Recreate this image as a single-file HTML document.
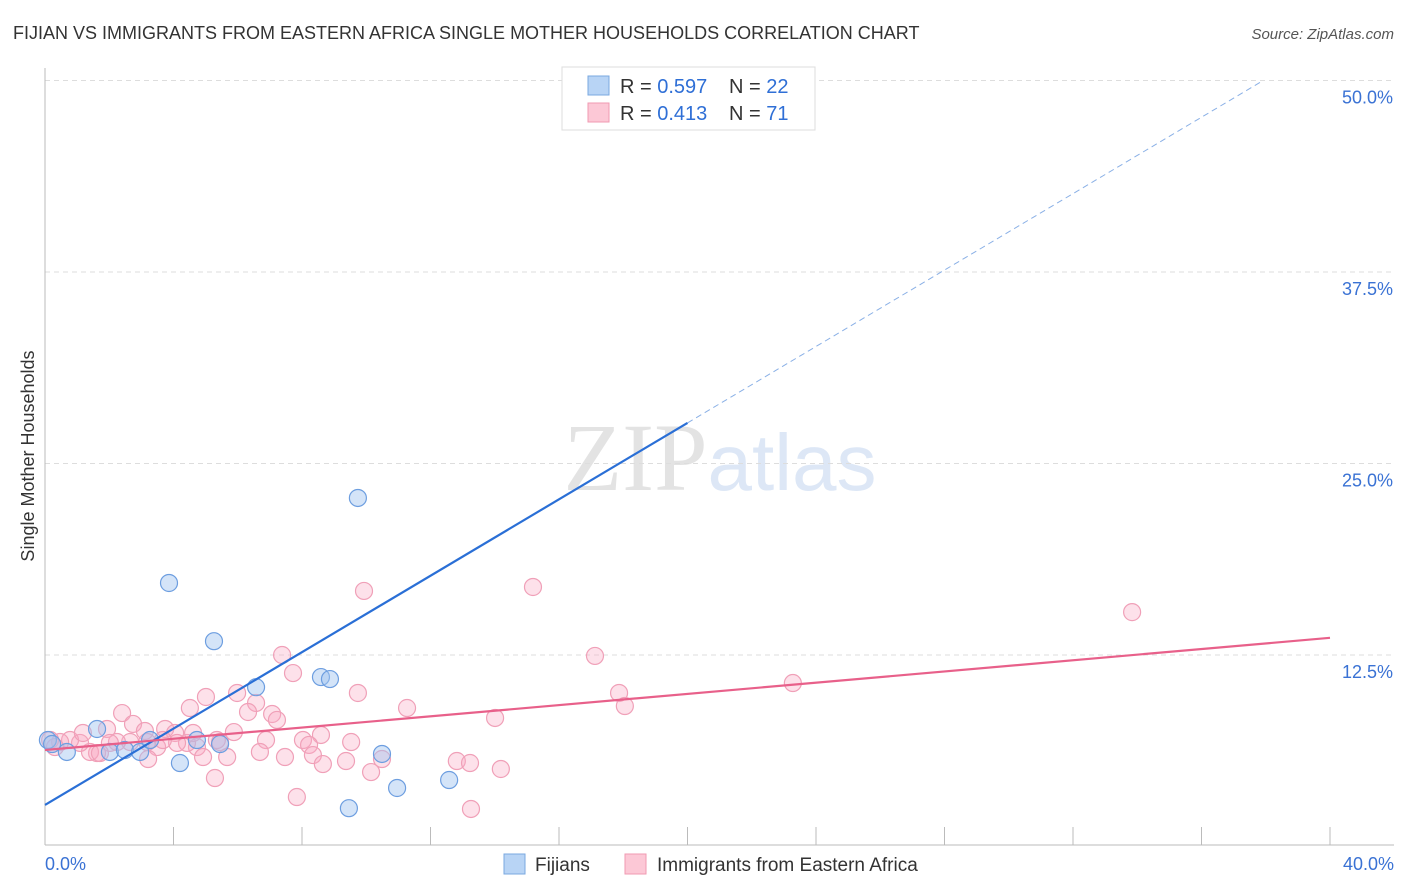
<!DOCTYPE html>
<html><head><meta charset="utf-8"><style>
body{margin:0;background:#fff;font-family:"Liberation Sans",sans-serif}
svg{display:block}
</style></head><body>
<svg id="chart" width="1406" height="892" xmlns="http://www.w3.org/2000/svg">
<text x="13" y="39" font-size="18" fill="#333">FIJIAN VS IMMIGRANTS FROM EASTERN AFRICA SINGLE MOTHER HOUSEHOLDS CORRELATION CHART</text>
<text x="1394" y="39" font-size="15" fill="#555" text-anchor="end" font-style="italic">Source: ZipAtlas.com</text>
<text x="720" y="490" font-size="96" text-anchor="middle" font-family="Liberation Serif" fill="#ddd" opacity="0.8">ZIP<tspan font-family="Liberation Sans" fill="#d5e2f4" font-size="80">atlas</tspan></text>
<g id="grid"></g>
<g id="axes"></g>
<g id="marks"></g>
<text transform="translate(34,456) rotate(-90)" font-size="18" fill="#333" text-anchor="middle">Single Mother Households</text>
<g>
<rect x="562" y="67" width="253" height="63" fill="#fff" stroke="#ddd"/>
<rect x="588" y="76" width="21" height="19" fill="#b8d4f5" stroke="#7aa8e0"/>
<rect x="588" y="103" width="21" height="19" fill="#fcc8d6" stroke="#f09ab2"/>
<text x="620" y="93" font-size="20" fill="#333">R = <tspan fill="#2f6fd6">0.597</tspan></text>
<text x="729" y="93" font-size="20" fill="#333">N = <tspan fill="#2f6fd6">22</tspan></text>
<text x="620" y="120" font-size="20" fill="#333">R = <tspan fill="#2f6fd6"> 0.413</tspan></text>
<text x="729" y="120" font-size="20" fill="#333">N = <tspan fill="#2f6fd6"> 71</tspan></text>
</g>
<g>
<rect x="504" y="854" width="21" height="20" fill="#b8d4f5" stroke="#7aa8e0"/>
<text x="535" y="871" font-size="19" fill="#333">Fijians</text>
<rect x="625" y="854" width="21" height="20" fill="#fcc8d6" stroke="#f09ab2"/>
<text x="657" y="871" font-size="19" fill="#333">Immigrants from Eastern Africa</text>
</g>
</svg>
<script>
const yTicks=[12.5,25,37.5,50];
const yTickLabels=["12.5%","25.0%","37.5%","50.0%"];
const xTickLabels=["0.0%","40.0%"];
const fijiX=[0.09,0.22,0.68,1.62,2.02,2.49,2.96,3.27,3.86,4.20,4.73,5.26,5.45,6.57,8.59,8.87,9.74,9.46,10.49,10.96,12.58,19.77];
const fijiY=[6.95,6.69,6.17,7.67,6.17,6.30,6.17,6.95,17.2,5.45,6.95,13.4,6.69,10.4,11.06,10.93,22.75,2.5,6.04,3.82,4.34,50.0];
const immX=[9.93,7.38,7.72,9.74,11.27,5.98,5.01,4.51,2.40,6.57,6.32,7.07,7.22,2.74,1.93,3.11,3.74,4.05,5.88,8.59,9.53,8.03,8.22,6.88,5.45,4.73,5.35,4.42,4.11,3.49,3.18,2.65,2.24,2.02,1.62,1.40,1.09,0.78,0.47,0.16,0.31,1.71,3.21,4.92,5.67,6.69,7.47,8.34,8.65,9.37,10.49,10.15,5.29,7.84,1.18,3.67,4.61,15.19,17.12,17.87,18.05,23.28,14.01,12.82,13.23,14.19,13.26,33.84];
const immY=[16.68,12.50,11.32,10.02,9.04,10.02,9.76,9.04,8.71,9.37,8.78,8.65,8.26,8.0,7.67,7.54,7.67,7.41,7.47,7.28,6.82,6.95,6.63,6.95,6.82,6.49,6.95,6.76,6.76,6.49,6.82,6.82,6.82,6.76,6.10,6.17,6.76,6.95,6.82,6.95,6.49,6.10,5.71,5.84,5.84,6.17,5.84,5.97,5.38,5.58,5.71,4.86,4.47,3.23,7.41,6.95,7.41,16.94,12.44,10.02,9.17,10.67,8.39,5.58,5.45,5.06,2.45,15.3];
const fijiTrend=[2.71,1.247];
const immTrend=[6.30,0.183];

const NS="http://www.w3.org/2000/svg";
const X=v=>45+v/40*1285;
const Y=v=>846.5-v/12.5*191.5;
function mk(tag,attrs,parent){const e=document.createElementNS(NS,tag);for(const k in attrs)e.setAttribute(k,attrs[k]);document.getElementById(parent).appendChild(e);return e;}

yTicks.forEach((t,i)=>{
  const l=mk('line',{x1:45,x2:1394,y1:Y(t),y2:Y(t),stroke:'#ddd','stroke-dasharray':'5,4'},'grid');
  
  
  const tx=mk('text',{x:1393,y:Y(t)+23,'font-size':18,fill:'#3a72d4','text-anchor':'end'},'grid');
  tx.textContent=yTickLabels[i];
  
  
});
let a=mk('line',{x1:45,x2:45,y1:68,y2:845,stroke:'#bbb'},'axes');


a=mk('line',{x1:45,x2:1394,y1:845,y2:845,stroke:'#bbb'},'axes');


for(let i=0;i<=10;i++){
  const t=mk('line',{x1:X(i*4),x2:X(i*4),y1:827,y2:845,stroke:'#bbb'},'axes');
  
  
}
[[0,'start',45],[40,'end',1394]].forEach((d,i)=>{
  const t=mk('text',{x:d[2],y:870,'font-size':18,fill:'#3a72d4','text-anchor':d[1]},'axes');
  t.textContent=xTickLabels[i];
  
  
});

immX.forEach((x,i)=>{
  const c=mk('circle',{cx:X(x),cy:Y(immY[i]),r:8.5,fill:'rgba(248,170,195,0.35)',stroke:'#f0a0b8','stroke-width':1.2},'marks');
  
  
});
fijiX.forEach((x,i)=>{
  const c=mk('circle',{cx:X(x),cy:Y(fijiY[i]),r:8.5,fill:'rgba(160,195,240,0.45)',stroke:'#6d9ee0','stroke-width':1.2},'marks');
  
  
});
let l=mk('line',{x1:X(0),y1:Y(fijiTrend[0]),x2:X(20),y2:Y(fijiTrend[0]+fijiTrend[1]*20),stroke:'#2a6fd6','stroke-width':2.2},'marks');


const xe=(50-fijiTrend[0])/fijiTrend[1];
l=mk('line',{x1:X(20),y1:Y(fijiTrend[0]+fijiTrend[1]*20),x2:X(xe),y2:Y(fijiTrend[0]+fijiTrend[1]*xe),stroke:'#8ab0e6','stroke-width':1,'stroke-dasharray':'6,4'},'marks');


l=mk('line',{x1:X(0),y1:Y(immTrend[0]),x2:X(40),y2:Y(immTrend[0]+immTrend[1]*40),stroke:'#e8608a','stroke-width':2.2},'marks');


</script>
</body></html>
